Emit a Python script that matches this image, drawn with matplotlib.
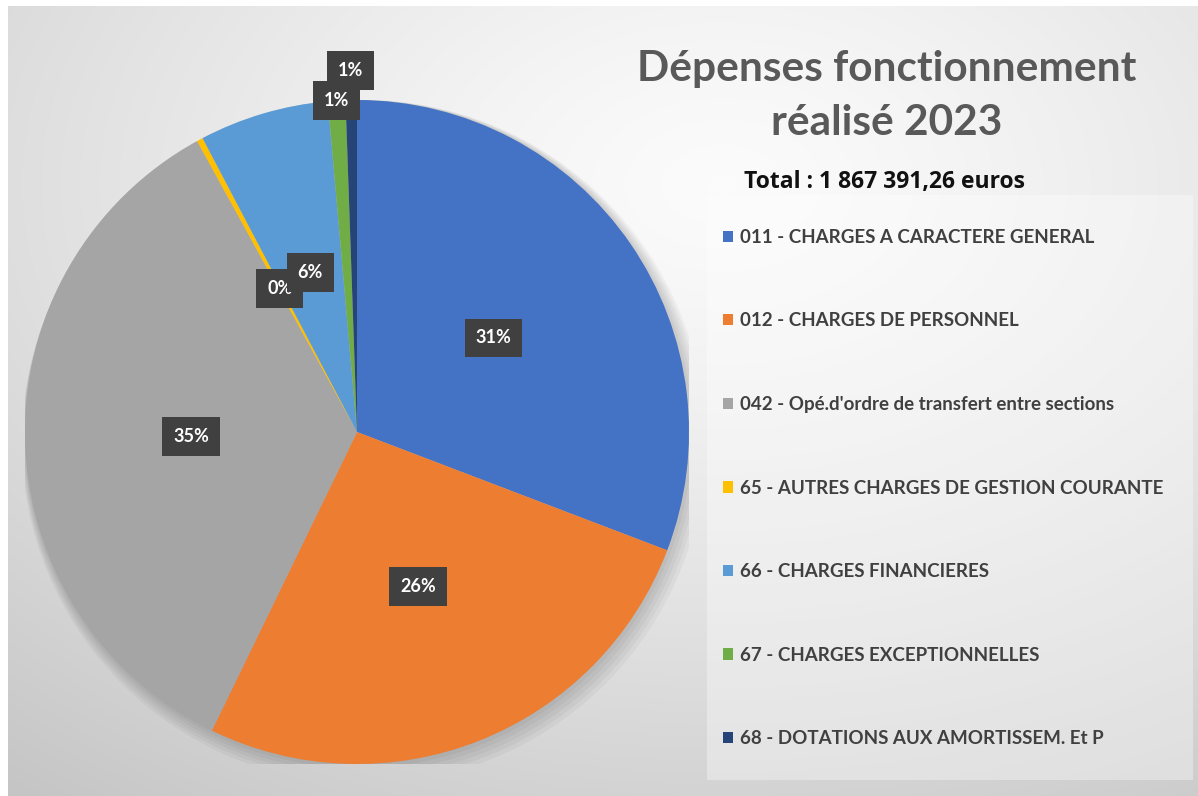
import numpy as np
import matplotlib
matplotlib.use("Agg")
import matplotlib.pyplot as plt
from matplotlib.patches import Rectangle, Circle

# Données (parts en %)
categories = [
    "011 - CHARGES A CARACTERE GENERAL",
    "012 - CHARGES DE PERSONNEL",
    "042 - Opé.d'ordre de transfert entre sections",
    "65 - AUTRES CHARGES DE GESTION COURANTE",
    "66 - CHARGES FINANCIERES",
    "67 - CHARGES EXCEPTIONNELLES",
    "68 - DOTATIONS AUX AMORTISSEM. Et P",
]
values = [30.8, 26.4, 34.8, 0.3, 6.3, 0.85, 0.55]
pct_labels = ["31%", "26%", "35%", "0%", "6%", "1%", "1%"]
colors = ["#4472C4", "#ED7D31", "#A5A5A5", "#FFC000", "#5B9BD5", "#70AD47", "#264478"]
label_r = [0.5, 0.5, 0.5, 0.49, 0.5, 1.0, 1.09]
title = "Dépenses fonctionnement\nréalisé 2023"
total = "Total : 1 867 391,26 euros"

W, H = 1198, 796
fig = plt.figure(figsize=(W / 100, H / 100), dpi=100)
fig.patch.set_facecolor("white")

# fond en dégradé
bg = fig.add_axes([8 / W, 0, 1 - 8 / W, 1 - 6 / H])
yy, xx = np.mgrid[0:400, 0:600]
d = np.hypot((xx - 360) / 600, (yy - 90) / 400)
g = 0.985 - 0.22 * np.clip(d, 0, 1.2) ** 1.3
bg.imshow(np.dstack([g, g, g]), aspect="auto", extent=[0, 1, 0, 1], origin="upper")
bg.set_xlim(0, 1); bg.set_ylim(0, 1)
bg.axis("off")

# cadre légende
fig.patches.append(Rectangle((707 / W, 1 - 780 / H), 486 / W, 585 / H,
                             transform=fig.transFigure, fc="white", alpha=0.35, ec="none"))

# camembert
R = 332
ax = fig.add_axes([(357 - R) / W, (H - 432 - R) / H, 2 * R / W, 2 * R / H])
ax.axis("off")
for k in range(6):
    ax.add_patch(Circle((0.004 * k, -0.006 * k), 1.0 + 0.006 * k, fc="#000000", alpha=0.035, ec="none", zorder=0))
wedges, _ = ax.pie(values, colors=colors, startangle=90, counterclock=False,
                   wedgeprops=dict(linewidth=0), radius=1)
ax.set_xlim(-1, 1); ax.set_ylim(-1, 1)

for w, lab, r in zip(wedges, pct_labels, label_r):
    a = np.deg2rad((w.theta1 + w.theta2) / 2)
    ax.text(r * np.cos(a), r * np.sin(a), lab, ha="center", va="center",
            color="white", fontsize=13, fontweight="bold", family="Lato",
            bbox=dict(boxstyle="square,pad=0.6", fc="#404040", ec="none"),
            clip_on=False, zorder=5)

# titres
fig.text(887 / W, 1 - 96 / H, title, ha="center", va="center", fontsize=30.5,
         fontweight="bold", color="#595959", family="Lato", linespacing=1.5)
fig.text(885 / W, 1 - 182 / H, total, ha="center", va="center", fontsize=16.5,
         fontweight="bold", color="#111111", family="Open Sans")

# légende
leg = fig.legend(wedges, categories, loc="upper left", bbox_to_anchor=(706 / W, 1 - 212 / H),
                 frameon=False, handlelength=0.55, handleheight=0.55, handletextpad=0.35,
                 labelspacing=3.55, prop=dict(family="Lato", weight="bold", size=13.5))
for t in leg.get_texts():
    t.set_color("#404040")

fig.savefig("out.png", dpi=100)
